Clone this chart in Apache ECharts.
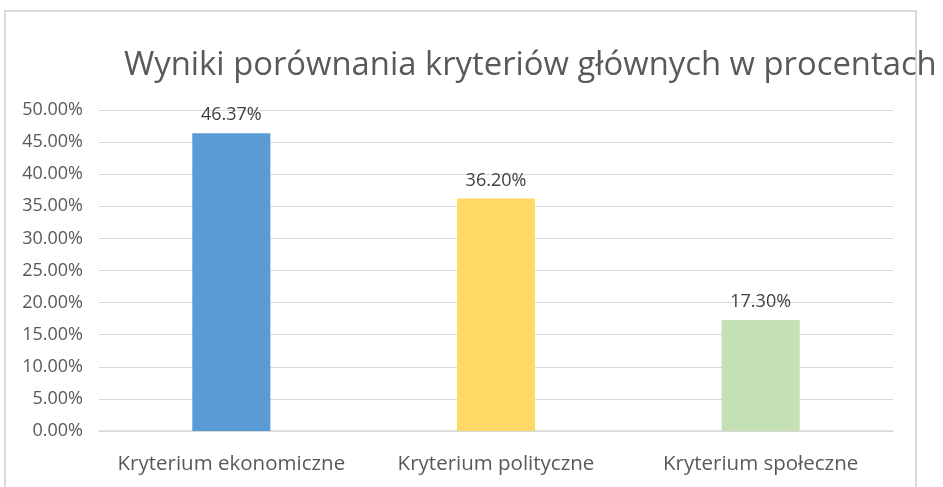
<!DOCTYPE html>
<html>
<head>
<meta charset="utf-8">
<script src="https://cdn.jsdelivr.net/npm/echarts@6/dist/echarts.min.js"></script>
<style>
  html, body { margin: 0; padding: 0; background: #fff; }
  #chart { width: 943px; height: 487px; }
</style>
</head>
<body>
<div id="chart"></div>
<script>
// kategorie i wartości (w procentach)
var categories = ['Kryterium ekonomiczne', 'Kryterium polityczne', 'Kryterium społeczne'];
var values = [46.37, 36.20, 17.30];
var barColors = ['#5B9BD5', '#FFD966', '#C5E0B4'];
var chartTitle = 'Wyniki porównania kryteriów głównych w procentach';

var chart = echarts.init(document.getElementById('chart'));

var seriesData = [];
for (var i = 0; i < values.length; i++) {
    seriesData.push({ value: values[i], itemStyle: { color: barColors[i] } });
}

var font = 'Open Sans, sans-serif';

chart.setOption({
    backgroundColor: '#fff',
    animation: false,
    title: {
        text: chartTitle,
        left: 119,
        top: 44,
        textStyle: { fontFamily: font, fontSize: 32.8, fontWeight: 'normal', color: '#595959' }
    },
    // ramka wykresu
    graphic: [{
        type: 'rect',
        shape: { x: 5, y: 11, width: 911, height: 490 },
        style: { fill: 'none', stroke: '#d9d9d9', lineWidth: 2 },
        silent: true
    }],
    grid: { left: 99, right: 50, top: 110, bottom: 56, containLabel: false },
    xAxis: {
        type: 'category',
        data: categories,
        axisLine: { lineStyle: { color: '#d9d9d9', width: 1.5 } },
        axisTick: { show: false },
        axisLabel: {
            interval: 0,
            hideOverlap: false,
            fontFamily: font, fontSize: 20.5, color: '#595959', margin: 23
        }
    },
    yAxis: {
        type: 'value',
        min: 0,
        max: 50,
        interval: 5,
        axisLine: { show: false },
        axisTick: { show: false },
        splitLine: { lineStyle: { color: '#d9d9d9' } },
        axisLabel: {
            fontFamily: font, fontSize: 18, color: '#595959', margin: 16,
            formatter: function (v) { return v.toFixed(2) + '%'; }
        }
    },
    series: [{
        type: 'bar',
        data: seriesData,
        barWidth: '29.5%',
        label: {
            show: true,
            position: 'top',
            distance: 9,
            fontFamily: font,
            fontSize: 18,
            color: '#404040',
            formatter: function (p) { return p.value.toFixed(2) + '%'; }
        }
    }]
});
</script>
</body>
</html>
